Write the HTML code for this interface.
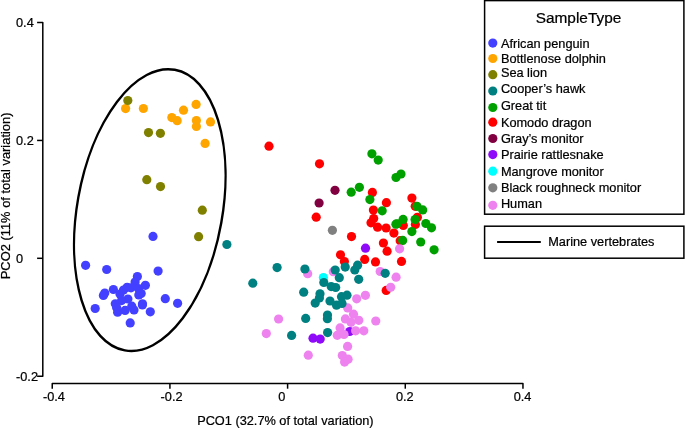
<!DOCTYPE html>
<html><head><meta charset="utf-8"><style>
html,body{margin:0;padding:0;background:#fff;}
body{width:685px;height:428px;overflow:hidden;}
svg{display:block;font-family:"Liberation Sans",sans-serif;will-change:transform;}
text{stroke:#000;stroke-width:0.22px;}
</style></head><body>
<svg width="685" height="428" viewBox="0 0 685 428">
<rect width="685" height="428" fill="#fff"/>
<path d="M37.1 22.58 H42.8 V376.16 H37.1" fill="none" stroke="#000" stroke-width="1.5" stroke-linejoin="round"/>
<path d="M37.1 140.44 H42.8" stroke="#000" stroke-width="1.5"/>
<path d="M37.1 258.30 H42.8" stroke="#000" stroke-width="1.5"/>
<path d="M52.24 388.7 V383.4 H522.96 V388.7" fill="none" stroke="#000" stroke-width="1.5" stroke-linejoin="round"/>
<path d="M169.92 383.4 V388.7" stroke="#000" stroke-width="1.5"/>
<path d="M287.60 383.4 V388.7" stroke="#000" stroke-width="1.5"/>
<path d="M405.28 383.4 V388.7" stroke="#000" stroke-width="1.5"/>
<text x="16.0" y="27.2" font-size="12.75">0.4</text>
<text x="16.0" y="145.0" font-size="12.75">0.2</text>
<text x="16.0" y="262.9" font-size="12.75">0</text>
<text x="16.0" y="380.7" font-size="12.75">-0.2</text>
<text x="42.94" y="401.0" font-size="12.75">-0.4</text>
<text x="160.62" y="401.0" font-size="12.75">-0.2</text>
<text x="278.30" y="401.0" font-size="12.75">0</text>
<text x="395.98" y="401.0" font-size="12.75">0.2</text>
<text x="513.66" y="401.0" font-size="12.75">0.4</text>
<text x="285.4" y="424.9" font-size="12.75" text-anchor="middle">PCO1 (32.7% of total variation)</text>
<text transform="translate(9.8 195.9) rotate(-90)" font-size="12.9" text-anchor="middle">PCO2 (11% of total variation)</text>
<ellipse cx="149.8" cy="210.1" rx="142.5" ry="72.6" transform="rotate(100.09 149.8 210.1)" fill="none" stroke="#000" stroke-width="2.4"/>
<circle cx="125.6" cy="108.6" r="4.6" fill="#FFA500"/>
<circle cx="143.4" cy="108.5" r="4.6" fill="#FFA500"/>
<circle cx="196.1" cy="104.4" r="4.6" fill="#FFA500"/>
<circle cx="183.5" cy="110.2" r="4.6" fill="#FFA500"/>
<circle cx="171.8" cy="117.6" r="4.6" fill="#FFA500"/>
<circle cx="177.2" cy="120.7" r="4.6" fill="#FFA500"/>
<circle cx="196.4" cy="120.6" r="4.6" fill="#FFA500"/>
<circle cx="196.4" cy="126.4" r="4.6" fill="#FFA500"/>
<circle cx="210.5" cy="121.9" r="4.6" fill="#FFA500"/>
<circle cx="205.1" cy="143.4" r="4.6" fill="#FFA500"/>
<circle cx="127.8" cy="100.5" r="4.6" fill="#808000"/>
<circle cx="148.5" cy="132.6" r="4.6" fill="#808000"/>
<circle cx="160.4" cy="133.3" r="4.6" fill="#808000"/>
<circle cx="146.8" cy="179.7" r="4.6" fill="#808000"/>
<circle cx="160.5" cy="186.6" r="4.6" fill="#808000"/>
<circle cx="202.3" cy="210.2" r="4.6" fill="#808000"/>
<circle cx="198.6" cy="236.7" r="4.6" fill="#808000"/>
<circle cx="153.0" cy="236.4" r="4.6" fill="#4440FF"/>
<circle cx="85.6" cy="265.3" r="4.6" fill="#4440FF"/>
<circle cx="106.7" cy="269.5" r="4.6" fill="#4440FF"/>
<circle cx="158.1" cy="271.1" r="4.6" fill="#4440FF"/>
<circle cx="137.4" cy="276.5" r="4.6" fill="#4440FF"/>
<circle cx="145.4" cy="285.3" r="4.6" fill="#4440FF"/>
<circle cx="135.1" cy="282.1" r="4.6" fill="#4440FF"/>
<circle cx="127.1" cy="287.3" r="4.6" fill="#4440FF"/>
<circle cx="113.4" cy="289.5" r="4.6" fill="#4440FF"/>
<circle cx="123.5" cy="290.0" r="4.6" fill="#4440FF"/>
<circle cx="138.8" cy="295.0" r="4.6" fill="#4440FF"/>
<circle cx="120.0" cy="294.0" r="4.6" fill="#4440FF"/>
<circle cx="104.8" cy="293.1" r="4.6" fill="#4440FF"/>
<circle cx="103.4" cy="295.4" r="4.6" fill="#4440FF"/>
<circle cx="141.2" cy="293.5" r="4.6" fill="#4440FF"/>
<circle cx="138.5" cy="288.5" r="4.6" fill="#4440FF"/>
<circle cx="127.9" cy="299.0" r="4.6" fill="#4440FF"/>
<circle cx="121.6" cy="300.6" r="4.6" fill="#4440FF"/>
<circle cx="115.3" cy="303.8" r="4.6" fill="#4440FF"/>
<circle cx="142.5" cy="303.8" r="4.6" fill="#4440FF"/>
<circle cx="142.4" cy="305.0" r="4.6" fill="#4440FF"/>
<circle cx="134.0" cy="310.0" r="4.6" fill="#4440FF"/>
<circle cx="131.8" cy="306.2" r="4.6" fill="#4440FF"/>
<circle cx="131.0" cy="287.8" r="4.6" fill="#4440FF"/>
<circle cx="125.1" cy="310.4" r="4.6" fill="#4440FF"/>
<circle cx="117.6" cy="312.2" r="4.6" fill="#4440FF"/>
<circle cx="116.6" cy="307.6" r="4.6" fill="#4440FF"/>
<circle cx="150.3" cy="311.8" r="4.6" fill="#4440FF"/>
<circle cx="130.2" cy="322.9" r="4.6" fill="#4440FF"/>
<circle cx="95.2" cy="308.5" r="4.6" fill="#4440FF"/>
<circle cx="165.3" cy="298.7" r="4.6" fill="#4440FF"/>
<circle cx="177.6" cy="303.3" r="4.6" fill="#4440FF"/>
<circle cx="269.0" cy="146.2" r="4.6" fill="#FF0000"/>
<circle cx="319.5" cy="163.8" r="4.6" fill="#FF0000"/>
<circle cx="372.4" cy="192.4" r="4.6" fill="#FF0000"/>
<circle cx="386.4" cy="202.7" r="4.6" fill="#FF0000"/>
<circle cx="411.9" cy="198.1" r="4.6" fill="#FF0000"/>
<circle cx="415.2" cy="206.3" r="4.6" fill="#FF0000"/>
<circle cx="373.4" cy="210.1" r="4.6" fill="#FF0000"/>
<circle cx="316.2" cy="217.2" r="4.6" fill="#FF0000"/>
<circle cx="373.7" cy="218.6" r="4.6" fill="#FF0000"/>
<circle cx="371.0" cy="222.8" r="4.6" fill="#FF0000"/>
<circle cx="403.3" cy="225.4" r="4.6" fill="#FF0000"/>
<circle cx="417.4" cy="217.3" r="4.6" fill="#FF0000"/>
<circle cx="415.4" cy="224.5" r="4.6" fill="#FF0000"/>
<circle cx="377.6" cy="227.2" r="4.6" fill="#FF0000"/>
<circle cx="386.1" cy="228.0" r="4.6" fill="#FF0000"/>
<circle cx="393.9" cy="233.1" r="4.6" fill="#FF0000"/>
<circle cx="351.5" cy="236.6" r="4.6" fill="#FF0000"/>
<circle cx="400.2" cy="240.7" r="4.6" fill="#FF0000"/>
<circle cx="383.4" cy="243.0" r="4.6" fill="#FF0000"/>
<circle cx="387.1" cy="251.2" r="4.6" fill="#FF0000"/>
<circle cx="340.5" cy="254.8" r="4.6" fill="#FF0000"/>
<circle cx="344.4" cy="261.5" r="4.6" fill="#FF0000"/>
<circle cx="364.7" cy="259.4" r="4.6" fill="#FF0000"/>
<circle cx="375.5" cy="261.9" r="4.6" fill="#FF0000"/>
<circle cx="401.5" cy="261.4" r="4.6" fill="#FF0000"/>
<circle cx="386.2" cy="290.4" r="4.6" fill="#FF0000"/>
<circle cx="371.9" cy="153.8" r="4.6" fill="#00A000"/>
<circle cx="378.2" cy="160.1" r="4.6" fill="#00A000"/>
<circle cx="401.0" cy="174.0" r="4.6" fill="#00A000"/>
<circle cx="396.0" cy="177.5" r="4.6" fill="#00A000"/>
<circle cx="351.2" cy="192.2" r="4.6" fill="#00A000"/>
<circle cx="359.4" cy="187.3" r="4.6" fill="#00A000"/>
<circle cx="369.9" cy="199.6" r="4.6" fill="#00A000"/>
<circle cx="417.0" cy="206.3" r="4.6" fill="#00A000"/>
<circle cx="422.7" cy="209.9" r="4.6" fill="#00A000"/>
<circle cx="382.2" cy="210.8" r="4.6" fill="#00A000"/>
<circle cx="403.1" cy="219.4" r="4.6" fill="#00A000"/>
<circle cx="397.1" cy="223.8" r="4.6" fill="#00A000"/>
<circle cx="395.9" cy="224.2" r="4.6" fill="#00A000"/>
<circle cx="415.1" cy="219.6" r="4.6" fill="#00A000"/>
<circle cx="425.8" cy="223.5" r="4.6" fill="#00A000"/>
<circle cx="431.5" cy="227.8" r="4.6" fill="#00A000"/>
<circle cx="411.9" cy="231.6" r="4.6" fill="#00A000"/>
<circle cx="402.7" cy="240.4" r="4.6" fill="#00A000"/>
<circle cx="420.7" cy="242.0" r="4.6" fill="#00A000"/>
<circle cx="434.1" cy="249.8" r="4.6" fill="#00A000"/>
<circle cx="335.0" cy="190.3" r="4.6" fill="#800040"/>
<circle cx="319.1" cy="203.0" r="4.6" fill="#800040"/>
<circle cx="332.4" cy="230.3" r="4.6" fill="#808080"/>
<circle cx="323.4" cy="277.6" r="4.6" fill="#00FFFF"/>
<circle cx="313.0" cy="338.2" r="4.6" fill="#8E0AF8"/>
<circle cx="320.2" cy="339.1" r="4.6" fill="#8E0AF8"/>
<circle cx="349.7" cy="331.5" r="4.6" fill="#8E0AF8"/>
<circle cx="365.5" cy="248.2" r="4.6" fill="#8E0AF8"/>
<circle cx="278.6" cy="319.0" r="4.6" fill="#EE82EE"/>
<circle cx="266.3" cy="333.6" r="4.6" fill="#EE82EE"/>
<circle cx="307.7" cy="273.7" r="4.6" fill="#EE82EE"/>
<circle cx="333.3" cy="271.7" r="4.6" fill="#EE82EE"/>
<circle cx="308.3" cy="355.2" r="4.6" fill="#EE82EE"/>
<circle cx="356.7" cy="298.8" r="4.6" fill="#EE82EE"/>
<circle cx="365.4" cy="295.3" r="4.6" fill="#EE82EE"/>
<circle cx="347.7" cy="307.9" r="4.6" fill="#EE82EE"/>
<circle cx="353.5" cy="314.2" r="4.6" fill="#EE82EE"/>
<circle cx="345.4" cy="318.9" r="4.6" fill="#EE82EE"/>
<circle cx="358.8" cy="320.3" r="4.6" fill="#EE82EE"/>
<circle cx="351.0" cy="322.3" r="4.6" fill="#EE82EE"/>
<circle cx="375.8" cy="321.0" r="4.6" fill="#EE82EE"/>
<circle cx="340.1" cy="327.9" r="4.6" fill="#EE82EE"/>
<circle cx="337.3" cy="335.3" r="4.6" fill="#EE82EE"/>
<circle cx="344.0" cy="334.5" r="4.6" fill="#EE82EE"/>
<circle cx="355.6" cy="330.8" r="4.6" fill="#EE82EE"/>
<circle cx="363.8" cy="330.8" r="4.6" fill="#EE82EE"/>
<circle cx="347.6" cy="346.4" r="4.6" fill="#EE82EE"/>
<circle cx="342.3" cy="355.5" r="4.6" fill="#EE82EE"/>
<circle cx="348.1" cy="359.2" r="4.6" fill="#EE82EE"/>
<circle cx="344.6" cy="362.1" r="4.6" fill="#EE82EE"/>
<circle cx="399.6" cy="248.8" r="4.6" fill="#EE82EE"/>
<circle cx="380.2" cy="271.5" r="4.6" fill="#EE82EE"/>
<circle cx="396.1" cy="277.2" r="4.6" fill="#EE82EE"/>
<circle cx="390.7" cy="287.3" r="4.6" fill="#EE82EE"/>
<circle cx="226.9" cy="244.5" r="4.6" fill="#008080"/>
<circle cx="277.1" cy="267.6" r="4.6" fill="#008080"/>
<circle cx="252.8" cy="283.2" r="4.6" fill="#008080"/>
<circle cx="303.7" cy="292.2" r="4.6" fill="#008080"/>
<circle cx="305.7" cy="318.4" r="4.6" fill="#008080"/>
<circle cx="291.6" cy="335.4" r="4.6" fill="#008080"/>
<circle cx="304.9" cy="269.0" r="4.6" fill="#008080"/>
<circle cx="323.8" cy="282.5" r="4.6" fill="#008080"/>
<circle cx="335.2" cy="270.0" r="4.6" fill="#008080"/>
<circle cx="339.3" cy="277.7" r="4.6" fill="#008080"/>
<circle cx="345.2" cy="267.1" r="4.6" fill="#008080"/>
<circle cx="357.6" cy="265.2" r="4.6" fill="#008080"/>
<circle cx="354.8" cy="270.0" r="4.6" fill="#008080"/>
<circle cx="358.7" cy="279.3" r="4.6" fill="#008080"/>
<circle cx="331.2" cy="286.6" r="4.6" fill="#008080"/>
<circle cx="335.7" cy="287.5" r="4.6" fill="#008080"/>
<circle cx="320.0" cy="293.8" r="4.6" fill="#008080"/>
<circle cx="319.4" cy="297.9" r="4.6" fill="#008080"/>
<circle cx="315.2" cy="303.1" r="4.6" fill="#008080"/>
<circle cx="330.0" cy="301.0" r="4.6" fill="#008080"/>
<circle cx="336.5" cy="305.2" r="4.6" fill="#008080"/>
<circle cx="341.5" cy="296.7" r="4.6" fill="#008080"/>
<circle cx="347.0" cy="295.2" r="4.6" fill="#008080"/>
<circle cx="342.0" cy="303.5" r="4.6" fill="#008080"/>
<circle cx="327.5" cy="315.0" r="4.6" fill="#008080"/>
<circle cx="327.4" cy="318.7" r="4.6" fill="#008080"/>
<circle cx="327.6" cy="332.6" r="4.6" fill="#008080"/>
<circle cx="385.2" cy="273.3" r="4.6" fill="#008080"/>
<rect x="484.6" y="0.6" width="199.3" height="213.6" fill="none" stroke="#000" stroke-width="1.5"/>
<text x="578.5" y="22.8" font-size="15.4" text-anchor="middle">SampleType</text>
<circle cx="492.8" cy="43.1" r="4.6" fill="#4440FF"/>
<text x="500.9" y="47.5" font-size="12.75">African penguin</text>
<circle cx="492.8" cy="58.5" r="4.6" fill="#FFA500"/>
<text x="500.9" y="62.9" font-size="12.75">Bottlenose dolphin</text>
<circle cx="492.8" cy="74.7" r="4.6" fill="#808000"/>
<text x="500.9" y="76.8" font-size="12.75">Sea lion</text>
<circle cx="492.8" cy="91.0" r="4.6" fill="#008080"/>
<text x="500.9" y="93.1" font-size="12.75">Cooper’s hawk</text>
<circle cx="492.8" cy="107.5" r="4.6" fill="#00A000"/>
<text x="500.9" y="109.8" font-size="12.75">Great tit</text>
<circle cx="492.8" cy="122.2" r="4.6" fill="#FF0000"/>
<text x="500.9" y="126.6" font-size="12.75">Komodo dragon</text>
<circle cx="492.8" cy="138.5" r="4.6" fill="#800040"/>
<text x="500.9" y="142.9" font-size="12.75">Gray’s monitor</text>
<circle cx="492.8" cy="154.6" r="4.6" fill="#8E0AF8"/>
<text x="500.9" y="159.4" font-size="12.75">Prairie rattlesnake</text>
<circle cx="492.8" cy="171.2" r="4.6" fill="#00FFFF"/>
<text x="500.9" y="175.8" font-size="12.75">Mangrove monitor</text>
<circle cx="492.8" cy="187.8" r="4.6" fill="#808080"/>
<text x="500.9" y="192.1" font-size="12.75">Black roughneck monitor</text>
<circle cx="492.8" cy="205.3" r="4.6" fill="#EE82EE"/>
<text x="500.9" y="207.5" font-size="12.75">Human</text>
<rect x="484.6" y="226.2" width="199.3" height="32.0" fill="none" stroke="#000" stroke-width="1.5"/>
<path d="M497.1 242.0 H540.8" stroke="#000" stroke-width="2.2"/>
<text x="548.2" y="245.9" font-size="12.75">Marine vertebrates</text>
</svg>
</body></html>
